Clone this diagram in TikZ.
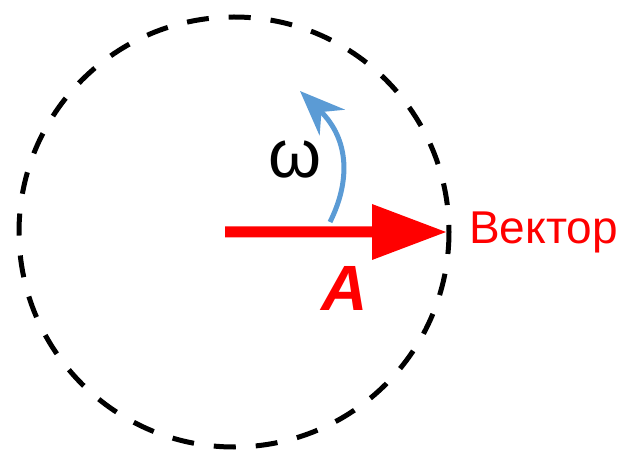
\documentclass[tikz,border=0pt]{standalone}
\usepackage{fontspec}
\setmainfont{Liberation Sans}
\usetikzlibrary{arrows.meta}
\definecolor{vecred}{RGB}{255,0,0}
\definecolor{omblue}{RGB}{91,155,213}
\tikzset{
  ringline/.style={line width=5pt, dash pattern=on 22pt off 20pt},
  vecfill/.style={fill=vecred, draw=none},
  omarrow/.style={draw=omblue, line width=5pt, -{Stealth[length=45pt,width=36pt,inset=15pt]}}
}
\begin{document}
\begin{tikzpicture}[x=1pt,y=-1pt]
\useasboundingbox (0,0) rectangle (629,462);
\coordinate (O) at (234,232);
\draw[ringline] (O) circle[radius=215];
% vector A
\coordinate (tail) at (225,232);
\coordinate (tip) at (446,232);
\fill[vecfill] (tail) ++(0,-5.5) -- (372,226.5) -- (372,204) -- (tip) -- (372,260) -- (372,237.5) -- (225,237.5) -- cycle;
% omega arrow
\coordinate (wstart) at (330,222);
\coordinate (wend) at (300,91);
\draw[omarrow] (wstart) .. controls (350,182) and (350,140) .. (wend);
\node[font=\fontsize{68}{68}\selectfont, inner sep=0pt] (omega) at (295,160) {ω};
\node[font=\fontsize{64}{64}\selectfont\bfseries\itshape, text=vecred, inner sep=0pt] (A) at (345,288) {A};
\node[font=\fontsize{46}{46}\selectfont, text=vecred, inner sep=0pt, anchor=west] (vec) at (469,232) {Вектор};
\end{tikzpicture}
\end{document}
